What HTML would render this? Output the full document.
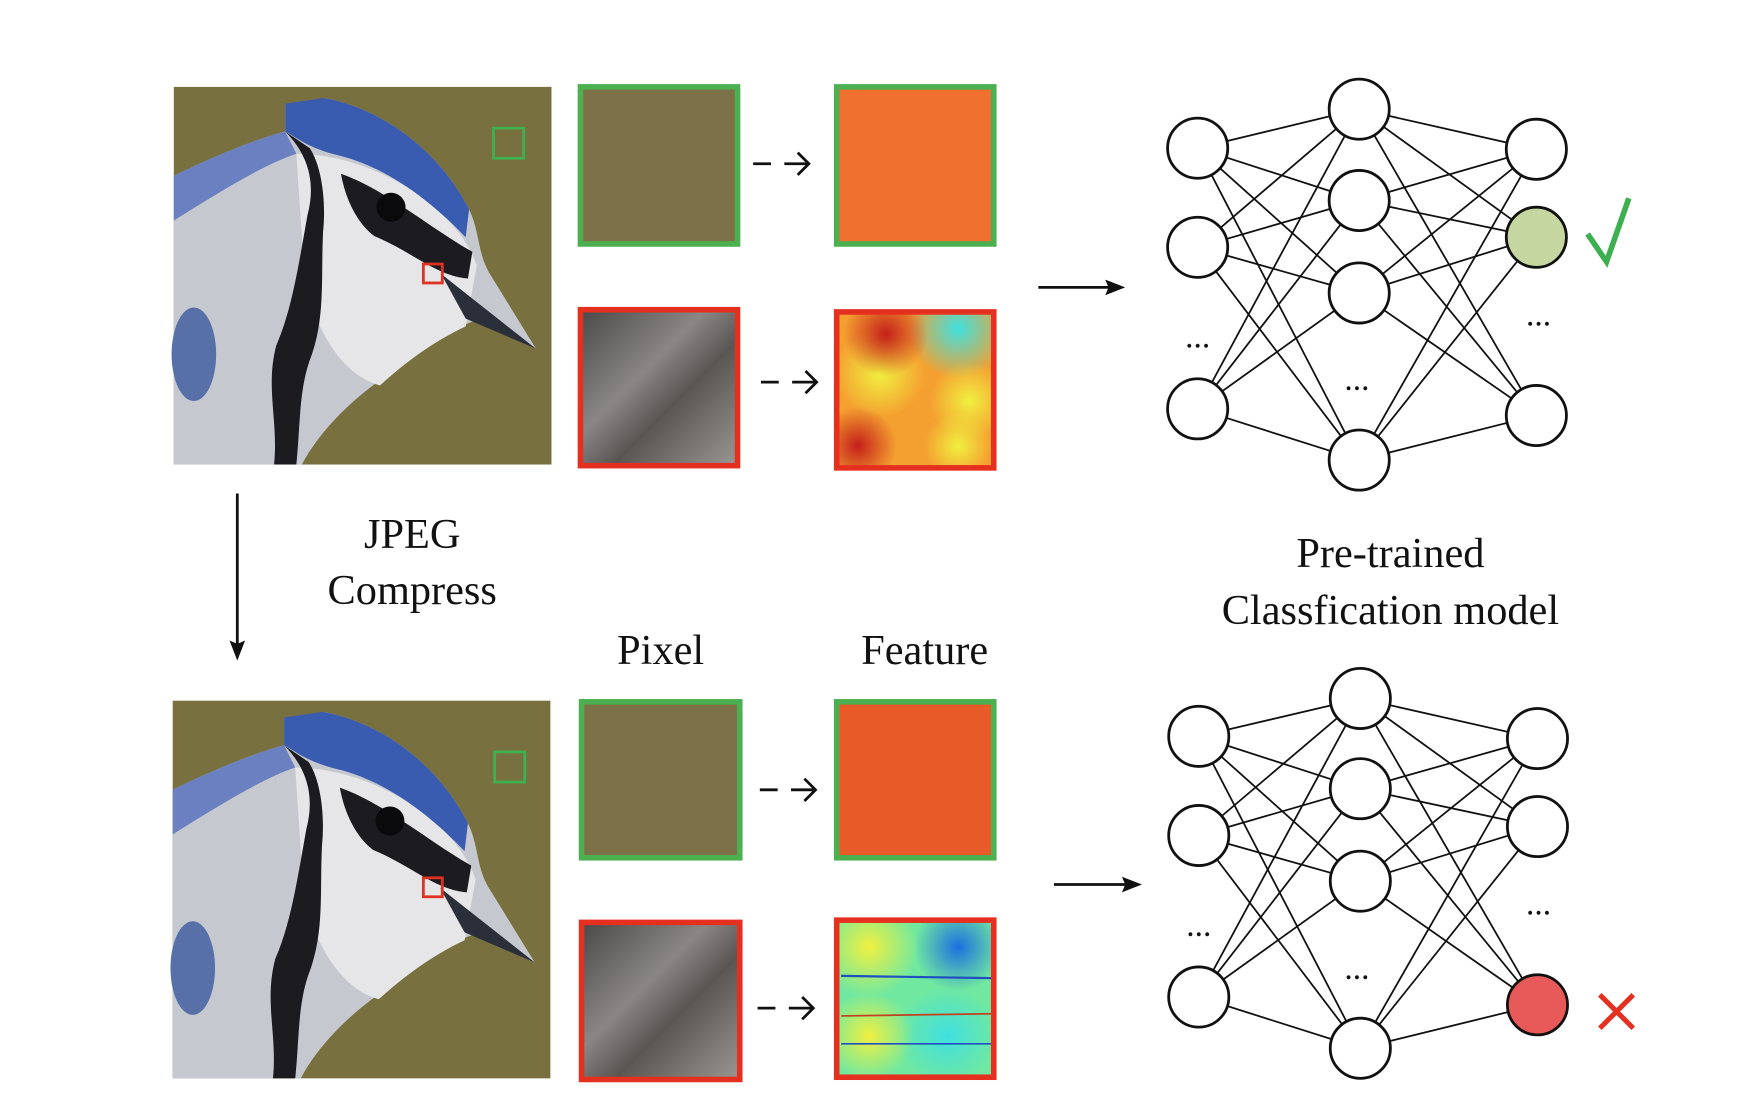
<!DOCTYPE html>
<html><head><meta charset="utf-8"><style>
html,body{margin:0;padding:0;background:#fff;width:1738px;height:1114px;overflow:hidden}
svg{display:block}
text{font-family:"Liberation Serif",serif;fill:#111}
</style></head><body>
<svg width="1738" height="1114" viewBox="0 0 1560 1000" preserveAspectRatio="none">
<defs>
<g id="bird">
<rect x="0" y="0" width="339" height="339" fill="#79703f"/>
<path d="M0,80 C40,60 80,45 100,40 L100,15 L125,20 L135,10 C190,20 240,60 265,110 C275,130 272,150 285,170 L325,235 L270,210 C240,220 220,240 190,260 C160,280 130,310 115,339 L0,339 Z" fill="#c6c8d0"/>
<path d="M0,80 C40,60 80,45 100,40 L110,60 C80,70 40,95 0,120 Z" fill="#6a80c0"/>
<path d="M110,60 C170,60 250,100 272,160 L262,215 C230,230 205,250 185,268 C150,258 130,220 118,180 Z" fill="#e6e6e8"/>
<path d="M100,15 L135,10 C190,20 240,60 265,110 L262,135 C240,112 200,75 150,62 C120,55 110,45 100,40 Z" fill="#3a5cb0"/>
<path d="M100,40 C120,60 128,85 120,115 C112,160 106,200 92,232 C82,270 94,300 90,339 L110,339 C114,300 112,270 124,240 C136,205 132,170 134,130 C137,100 132,70 122,55 Z" fill="#1b1b20"/>
<path d="M150,78 C190,92 232,128 268,148 L264,172 C236,170 214,148 180,134 C164,122 154,100 150,78 Z" fill="#1b1b20"/>
<circle cx="195" cy="108" r="13" fill="#0a0a0c"/>
<path d="M240,168 L325,235 L262,208 Z" fill="#2a2f3a"/>
<ellipse cx="18" cy="240" rx="20" ry="42" fill="#5870a8"/>
</g>
<clipPath id="c1"><rect x="751" y="280" width="141" height="140"/></clipPath>
<clipPath id="c2"><rect x="751" y="826" width="141" height="141"/></clipPath>
<radialGradient id="g1"><stop offset="0" stop-color="#c4201a"/><stop offset="1" stop-color="#c4201a" stop-opacity="0"/></radialGradient>
<radialGradient id="g2"><stop offset="0" stop-color="#40e0e0"/><stop offset="1" stop-color="#40e0e0" stop-opacity="0"/></radialGradient>
<radialGradient id="g3"><stop offset="0" stop-color="#f0f040"/><stop offset="1" stop-color="#f0f040" stop-opacity="0"/></radialGradient>
<radialGradient id="g4"><stop offset="0" stop-color="#1c70e0"/><stop offset="1" stop-color="#1c70e0" stop-opacity="0"/></radialGradient>
<linearGradient id="gray1" x1="0" y1="0" x2="1" y2="1"><stop offset="0" stop-color="#4a4848"/><stop offset="0.4" stop-color="#8a8686"/><stop offset="0.6" stop-color="#5a5654"/><stop offset="1" stop-color="#9a9694"/></linearGradient>
</defs>

<use href="#bird" x="156" y="78"/>
<rect x="443" y="115" width="27" height="27" fill="none" stroke="#3fb050" stroke-width="2.5"/>
<rect x="380" y="237" width="17" height="17" fill="none" stroke="#e03020" stroke-width="2.5"/>

<use href="#bird" x="155" y="629"/>
<rect x="444" y="675" width="27" height="27" fill="none" stroke="#3fb050" stroke-width="2.5"/>
<rect x="380" y="788" width="17" height="17" fill="none" stroke="#e03020" stroke-width="2.5"/>

<rect x="521" y="78" width="141" height="141" fill="#7d7148" stroke="#4caf50" stroke-width="5"/>
<rect x="521" y="278" width="141" height="140" fill="url(#gray1)" stroke="#e53020" stroke-width="5"/>
<rect x="522" y="630" width="142" height="140" fill="#7d7148" stroke="#4caf50" stroke-width="5"/>
<rect x="522" y="828" width="142" height="141" fill="url(#gray1)" stroke="#e53020" stroke-width="5"/>

<rect x="751" y="78" width="141" height="141" fill="#f07030" stroke="#4caf50" stroke-width="5"/>
<g>
<g clip-path="url(#c1)">
<rect x="751" y="280" width="141" height="140" fill="#f4a030"/>
<circle cx="860" cy="295" r="45" fill="url(#g2)"/>
<circle cx="870" cy="360" r="35" fill="url(#g3)"/>
<circle cx="790" cy="335" r="40" fill="url(#g3)"/>
<circle cx="795" cy="300" r="38" fill="url(#g1)"/>
<circle cx="770" cy="400" r="35" fill="url(#g1)"/>
<circle cx="860" cy="400" r="30" fill="url(#g3)"/>
</g>
<rect x="751" y="280" width="141" height="140" fill="none" stroke="#e53020" stroke-width="5"/>
</g>
<rect x="751" y="630" width="141" height="140" fill="#e85a28" stroke="#4caf50" stroke-width="5"/>
<g>
<g clip-path="url(#c2)">
<rect x="751" y="826" width="141" height="141" fill="#70e8a0"/>
<circle cx="780" cy="850" r="45" fill="url(#g3)"/>
<circle cx="860" cy="850" r="40" fill="url(#g4)"/>
<circle cx="850" cy="930" r="45" fill="url(#g2)"/>
<circle cx="780" cy="930" r="40" fill="url(#g3)"/>
<line x1="755" y1="876" x2="890" y2="878" stroke="#2050c0" stroke-width="2"/>
<line x1="755" y1="912" x2="890" y2="910" stroke="#c04020" stroke-width="1.5"/>
<line x1="755" y1="937" x2="890" y2="937" stroke="#2050c0" stroke-width="1.5"/>
</g>
<rect x="751" y="826" width="141" height="141" fill="none" stroke="#e53020" stroke-width="5"/>
</g>

<g stroke="#111" stroke-width="2.5" fill="none">
<path d="M676,147 h16 M704,147 h22 M716,137 l10,10 l-10,10"/>
<path d="M683,343 h16 M711,343 h22 M723,333 l10,10 l-10,10"/>
<path d="M682,709 h16 M710,709 h22 M722,699 l10,10 l-10,10"/>
<path d="M680,905 h16 M708,905 h22 M720,895 l10,10 l-10,10"/>
</g>
<g>
<line x1="932" y1="258" x2="1000" y2="258" stroke="#111" stroke-width="2.5"/>
<path d="M1010,258 L992,251 L995,258 L992,265 Z" fill="#111"/>
<line x1="946" y1="794" x2="1015" y2="794" stroke="#111" stroke-width="2.5"/>
<path d="M1025,794 L1007,787 L1010,794 L1007,801 Z" fill="#111"/>
<line x1="213" y1="443" x2="213" y2="580" stroke="#111" stroke-width="2.5"/>
<path d="M213,593 L206,575 L213,578 L220,575 Z" fill="#111"/>
</g>

<text x="370" y="492" font-size="38" text-anchor="middle">JPEG</text>
<text x="370" y="542" font-size="38" text-anchor="middle">Compress</text>
<text x="593" y="596" font-size="38" text-anchor="middle">Pixel</text>
<text x="830" y="596" font-size="38" text-anchor="middle">Feature</text>
<text x="1248" y="509" font-size="38" text-anchor="middle">Pre-trained</text>
<text x="1248" y="560" font-size="38" text-anchor="middle">Classfication model</text>

<g id="nets"></g>
<path d="M1425,210 L1442,235 L1462,178" fill="none" stroke="#3cb050" stroke-width="5"/>
<path d="M1436,893 L1466,923 M1466,893 L1436,923" stroke="#e53020" stroke-width="4.5"/>
</svg>
<script>
const NS='http://www.w3.org/2000/svg';
const nets=[
 {inX:1075,inY:[133,222,367],hX:1220,hY:[98,180,263,413],oX:1379,oY:[134,213,373],hl:1,col:'#c5d6a0',dots:[[1075,312],[1218,350],[1381,292]],name:'top'},
 {inX:1076,inY:[661,750,895],hX:1221,hY:[627,708,791,941],oX:1380,oY:[663,742,902],hl:2,col:'#e85a5a',dots:[[1076,840],[1218,879],[1381,821]],name:'bottom'}
];
const root=document.getElementById('nets');
nets.forEach(n=>{
 const g=document.createElementNS(NS,'g');
 
 
 root.appendChild(g);
 const line=(x1,y1,x2,y2)=>{const l=document.createElementNS(NS,'line');
  l.setAttribute('x1',x1);l.setAttribute('y1',y1);l.setAttribute('x2',x2);l.setAttribute('y2',y2);
  l.setAttribute('stroke','#111');l.setAttribute('stroke-width','1.6');
  
  
  g.appendChild(l);};
 n.inY.forEach(a=>n.hY.forEach(b=>line(n.inX,a,n.hX,b)));
 n.hY.forEach(a=>n.oY.forEach(b=>line(n.hX,a,n.oX,b)));
 const node=(x,y,f)=>{const c=document.createElementNS(NS,'circle');
  c.setAttribute('cx',x);c.setAttribute('cy',y);c.setAttribute('r',27);
  c.setAttribute('fill',f);c.setAttribute('stroke','#111');c.setAttribute('stroke-width','2.5');
  
  
  g.appendChild(c);};
 n.inY.forEach(y=>node(n.inX,y,'#fff'));
 n.hY.forEach(y=>node(n.hX,y,'#fff'));
 n.oY.forEach((y,i)=>node(n.oX,y,i===n.hl?n.col:'#fff'));
 n.dots.forEach(d=>{const t=document.createElementNS(NS,'text');
  t.setAttribute('x',d[0]);t.setAttribute('y',d[1]);t.setAttribute('font-size','30');
  t.setAttribute('text-anchor','middle');t.textContent='...';
  
  
  g.appendChild(t);});
});
</script>
</body></html>
